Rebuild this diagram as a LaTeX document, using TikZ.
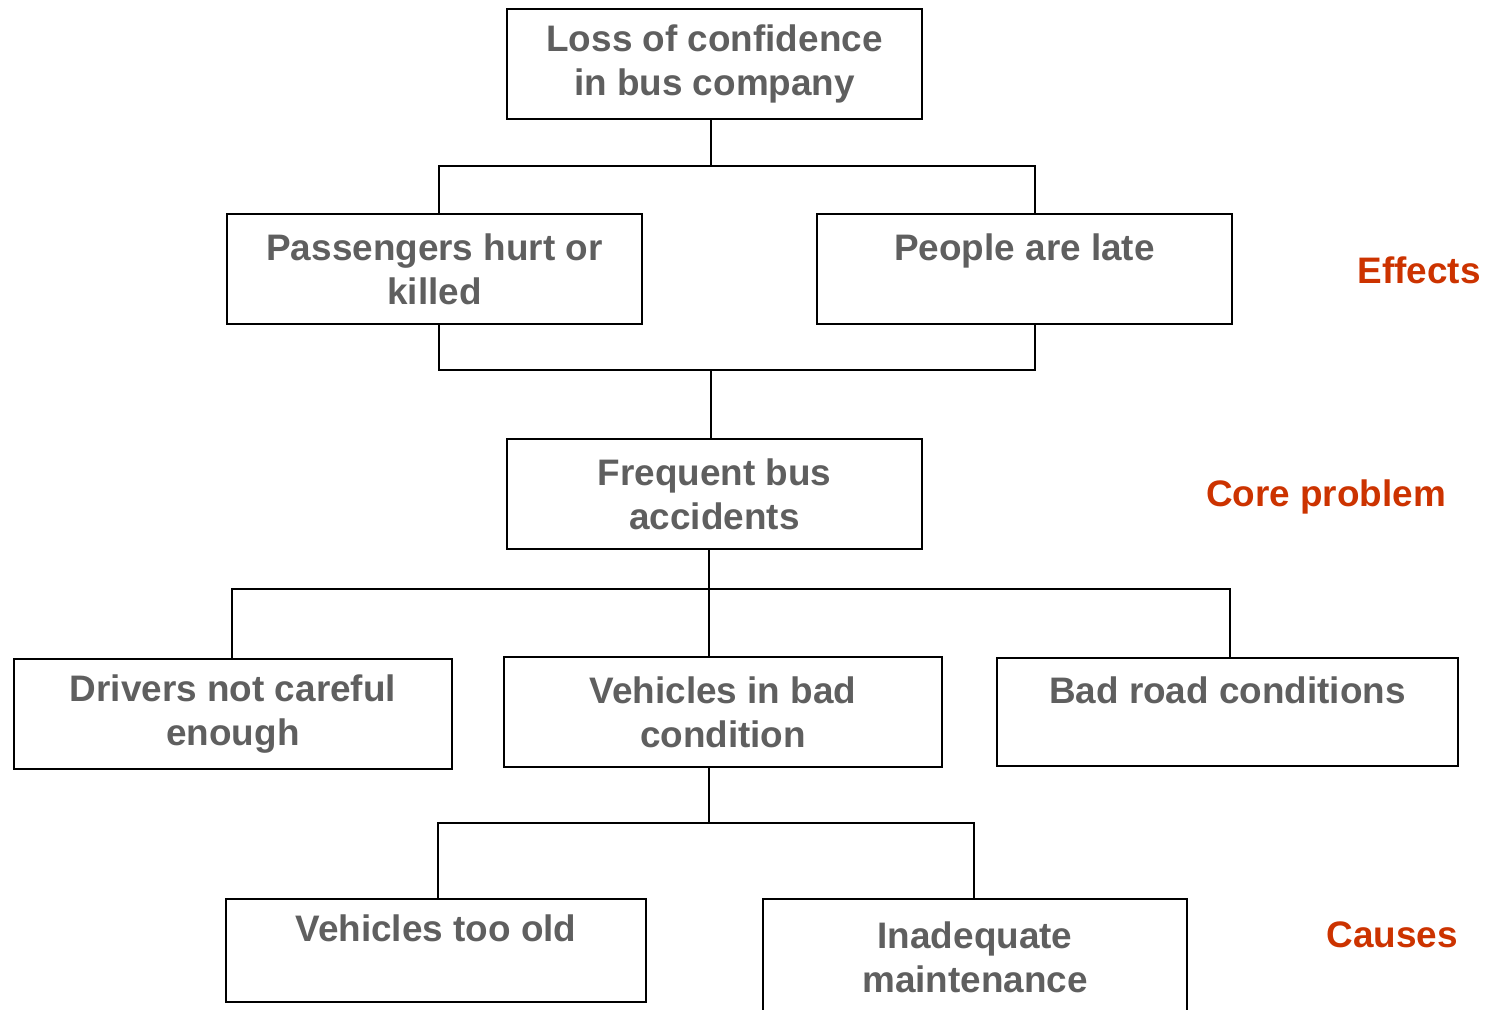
\documentclass[tikz,border=0pt]{standalone}
\usepackage{fontspec}
\setmainfont{Liberation Sans}
\definecolor{boxgray}{HTML}{5F5F5F}
\definecolor{levelred}{HTML}{CC3300}
\begin{document}
\begin{tikzpicture}[x=0.02cm,y=-0.02cm,
  prob/.style={draw,line width=1.1pt,inner sep=0pt,align=center,
    text=boxgray,font=\fontsize{21}{25}\selectfont\bfseries},
  level/.style={text=levelred,font=\fontsize{21}{25}\selectfont\bfseries},
  link/.style={line width=1.1pt}]

  \useasboundingbox (0,0) rectangle (1493,1009);
  \clip (0,0) rectangle (1493,1009);

  % Effects
  \node[prob,minimum width=415*0.02cm,minimum height=110*0.02cm] (loss) at (714.5,64) {Loss of confidence\\in bus company};
  \node[prob,minimum width=415*0.02cm,minimum height=110*0.02cm] (hurt) at (434.5,269) {Passengers hurt or\\killed};
  \node[prob,minimum width=415*0.02cm,minimum height=110*0.02cm] (late) at (1024.5,269) {People are late\\~};

  % Core problem
  \node[prob,minimum width=415*0.02cm,minimum height=110*0.02cm] (accid) at (714.5,494) {Frequent bus\\accidents};

  % Causes
  \node[prob,minimum width=438*0.02cm,minimum height=110*0.02cm] (drivers) at (233,714) {Drivers not careful\\enough};
  \node[prob,minimum width=438*0.02cm,minimum height=110*0.02cm] (vehicles) at (723,712) {Vehicles in bad\\condition};
  \node[prob,minimum width=461*0.02cm,minimum height=108*0.02cm] (road) at (1227.5,712) {Bad road conditions\\~};
  \node[prob,minimum width=420*0.02cm,minimum height=103*0.02cm] (old) at (436,950.5) {Vehicles too old\\~};
  \node[prob,minimum width=424*0.02cm,minimum height=116*0.02cm] (maint) at (975,957) {Inadequate\\maintenance};

  % Side labels
  \node[level] (effects) at (1419,270) {Effects};
  \node[level] (core) at (1326,497) {Core problem};
  \node[level] (causes) at (1392,935) {Causes};

  % Upper tree
  \coordinate (topmid) at (711,166);
  \coordinate (topleft) at (439,166);
  \coordinate (topright) at (1035,166);
  \draw[link] (loss.south -| topmid) -- (topmid);
  \draw[link] (hurt.north -| topleft) -- (topleft) -- (topright) -- (late.north -| topright);

  % Effects to core problem
  \coordinate (effmid) at (711,370);
  \coordinate (effleft) at (439,370);
  \coordinate (effright) at (1035,370);
  \draw[link] (hurt.south -| effleft) -- (effleft) -- (effright) -- (late.south -| effright);
  \draw[link] (effmid) -- (accid.north -| effmid);

  % Core problem to causes
  \coordinate (causemid) at (709,589);
  \coordinate (causeleft) at (232,589);
  \coordinate (causeright) at (1230,589);
  \draw[link] (accid.south -| causemid) -- (causemid);
  \draw[link] (drivers.north -| causeleft) -- (causeleft) -- (causeright) -- (road.north -| causeright);
  \draw[link] (causemid) -- (vehicles.north -| causemid);

  % Sub causes
  \coordinate (submid) at (709,823);
  \coordinate (subleft) at (438,823);
  \coordinate (subright) at (974,823);
  \draw[link] (vehicles.south -| submid) -- (submid);
  \draw[link] (old.north -| subleft) -- (subleft) -- (subright) -- (maint.north -| subright);
\end{tikzpicture}
\end{document}
